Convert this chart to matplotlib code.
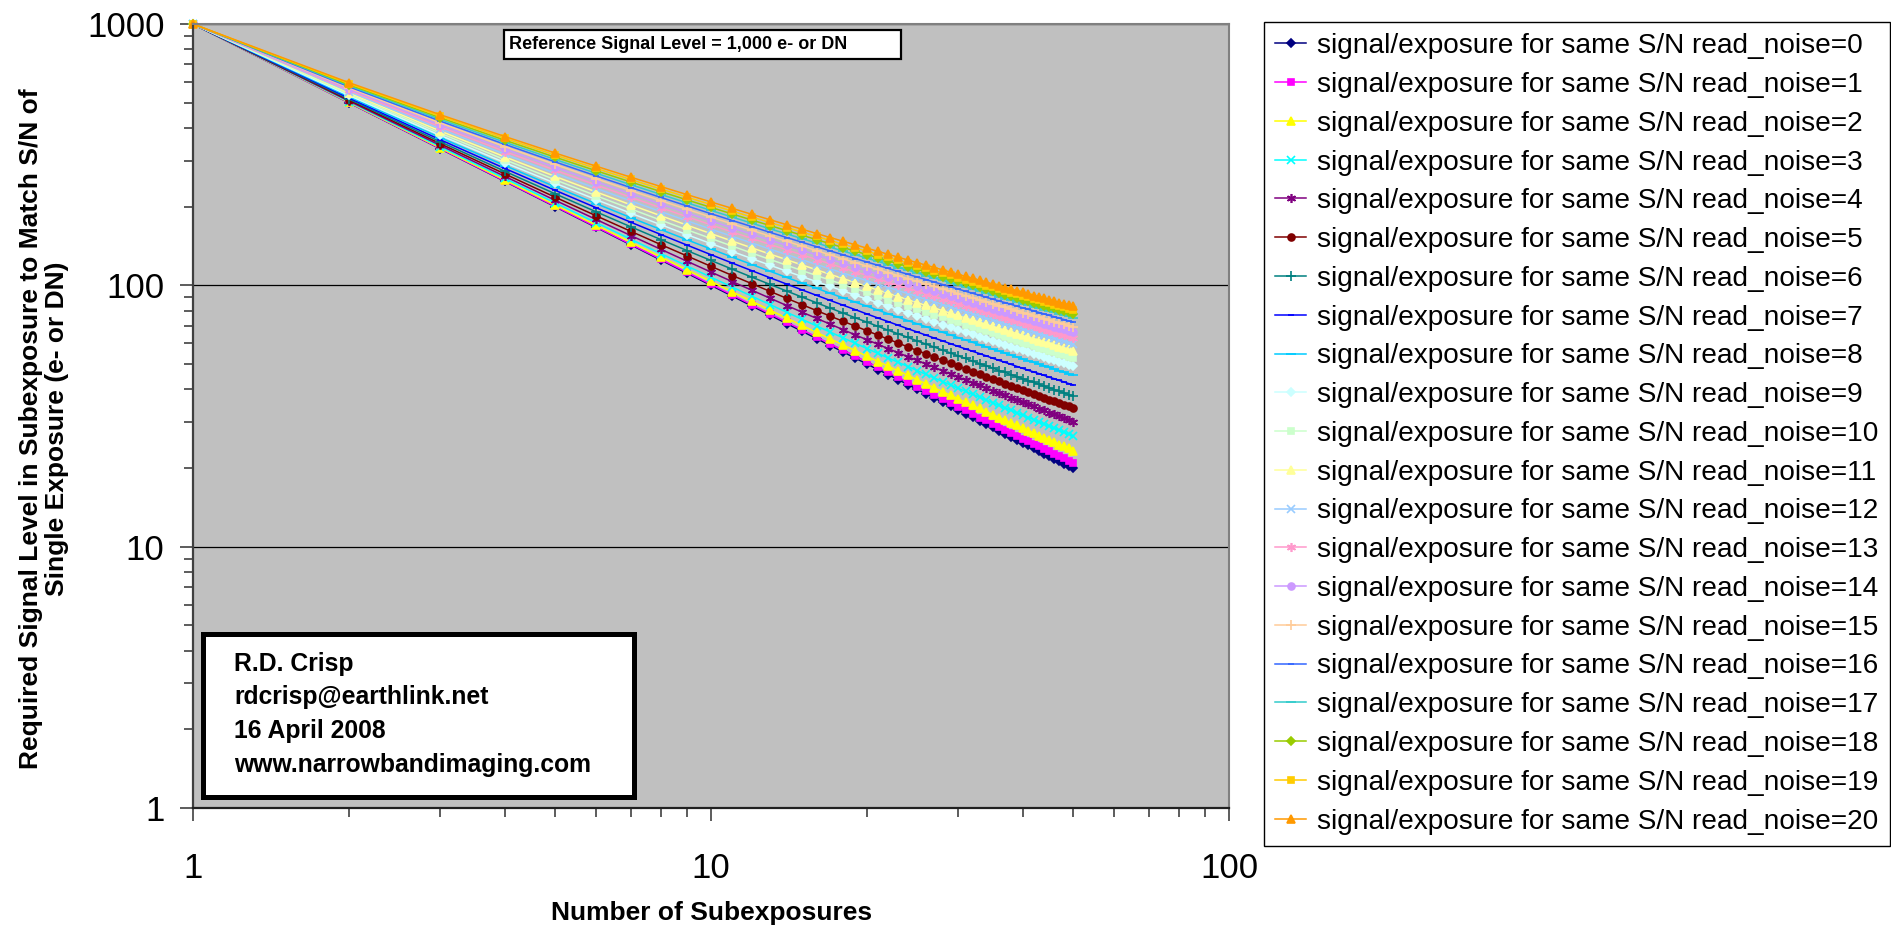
import matplotlib
matplotlib.use('Agg')
import matplotlib.pyplot as plt
from matplotlib.patches import Rectangle
from matplotlib.ticker import FixedLocator, LogLocator, NullFormatter

plt.rcParams['font.family'] = ['Liberation Sans', 'DejaVu Sans']

# number of subexposures (x)
subexposures = [1, 2, 3, 4, 5, 6, 7, 8, 9, 10, 11, 12, 13, 14, 15, 16, 17, 18, 19, 20,
                21, 22, 23, 24, 25, 26, 27, 28, 29, 30, 31, 32, 33, 34, 35, 36, 37, 38, 39, 40,
                41, 42, 43, 44, 45, 46, 47, 48, 49, 50]

noise_levels = [0, 1, 2, 3, 4, 5, 6, 7, 8, 9, 10, 11, 12, 13, 14, 15, 16, 17, 18, 19, 20]

# signal/exposure for same S/N, one list per read noise
noise_0 = [1000, 500, 333.3, 250, 200, 166.7, 142.9, 125, 111.1, 100, 90.9, 83.3, 76.9, 71.4, 66.7, 62.5, 58.8, 55.6, 52.6, 50,
           47.6, 45.5, 43.5, 41.7, 40, 38.5, 37.0, 35.7, 34.5, 33.3, 32.3, 31.3, 30.3, 29.4, 28.6, 27.8, 27.0, 26.3, 25.6, 25,
           24.4, 23.8, 23.3, 22.7, 22.2, 21.7, 21.3, 20.8, 20.4, 20.0]
noise_1 = [1000, 500.5, 334.0, 250.7, 200.8, 167.5, 143.7, 125.9, 112.0, 100.9, 91.8, 84.2, 77.8, 72.3, 67.6, 63.4, 59.7, 56.5, 53.6, 50.9,
           48.6, 46.4, 44.4, 42.6, 40.9, 39.4, 38.0, 36.6, 35.4, 34.3, 33.2, 32.2, 31.2, 30.4, 29.5, 28.7, 28.0, 27.2, 26.6, 25.9,
           25.3, 24.7, 24.2, 23.7, 23.2, 22.7, 22.2, 21.8, 21.3, 20.9]
noise_2 = [1000, 502.0, 336.0, 252.9, 203.1, 169.9, 146.2, 128.4, 114.5, 103.5, 94.4, 86.8, 80.4, 74.9, 70.2, 66.0, 62.4, 59.1, 56.2, 53.5,
           51.1, 49.0, 47.0, 45.2, 43.5, 42.0, 40.5, 39.2, 38.0, 36.8, 35.7, 34.7, 33.8, 32.9, 32.0, 31.2, 30.5, 29.7, 29.1, 28.4,
           27.8, 27.2, 26.6, 26.1, 25.6, 25.1, 24.6, 24.2, 23.8, 23.3]
noise_3 = [1000, 504.4, 339.1, 256.5, 206.8, 173.7, 150.1, 132.3, 118.5, 107.4, 98.4, 90.8, 84.4, 78.9, 74.1, 69.9, 66.2, 62.9, 60.0, 57.3,
           54.9, 52.7, 50.7, 48.9, 47.2, 45.6, 44.2, 42.8, 41.6, 40.4, 39.3, 38.3, 37.3, 36.4, 35.5, 34.7, 33.9, 33.2, 32.5, 31.8,
           31.2, 30.6, 30.0, 29.4, 28.9, 28.4, 27.9, 27.4, 27.0, 26.5]
noise_4 = [1000, 507.6, 343.4, 261.1, 211.7, 178.7, 155.1, 137.4, 123.5, 112.4, 103.3, 95.7, 89.3, 83.7, 78.9, 74.7, 71.0, 67.6, 64.6, 61.9,
           59.5, 57.2, 55.2, 53.3, 51.6, 50.0, 48.5, 47.1, 45.8, 44.6, 43.4, 42.4, 41.4, 40.4, 39.5, 38.7, 37.9, 37.1, 36.4, 35.7,
           35.0, 34.4, 33.7, 33.2, 32.6, 32.1, 31.6, 31.1, 30.6, 30.1]
noise_5 = [1000, 511.6, 348.5, 266.8, 217.5, 184.6, 161.0, 143.2, 129.4, 118.2, 109.0, 101.4, 94.8, 89.2, 84.3, 80.0, 76.2, 72.8, 69.8, 67.0,
           64.5, 62.2, 60.1, 58.1, 56.3, 54.7, 53.1, 51.7, 50.4, 49.1, 47.9, 46.8, 45.7, 44.7, 43.8, 42.9, 42.1, 41.2, 40.5, 39.7,
           39.0, 38.4, 37.7, 37.1, 36.5, 36.0, 35.4, 34.9, 34.4, 33.9]
noise_6 = [1000, 516.3, 354.4, 273.1, 224.1, 191.2, 167.5, 149.7, 135.7, 124.5, 115.2, 107.4, 100.8, 95.1, 90.1, 85.7, 81.8, 78.3, 75.1, 72.3,
           69.7, 67.3, 65.2, 63.2, 61.3, 59.6, 58.0, 56.5, 55.1, 53.7, 52.5, 51.3, 50.2, 49.2, 48.2, 47.2, 46.4, 45.5, 44.7, 43.9,
           43.2, 42.5, 41.8, 41.1, 40.5, 39.9, 39.3, 38.8, 38.2, 37.7]
noise_7 = [1000, 521.4, 360.9, 280.0, 231.1, 198.2, 174.4, 156.5, 142.4, 131.0, 121.6, 113.7, 106.9, 101.1, 96.0, 91.5, 87.5, 83.9, 80.7, 77.7,
           75.0, 72.6, 70.3, 68.2, 66.3, 64.5, 62.8, 61.3, 59.8, 58.4, 57.1, 55.9, 54.8, 53.7, 52.6, 51.6, 50.7, 49.8, 48.9, 48.1,
           47.3, 46.6, 45.9, 45.2, 44.5, 43.9, 43.3, 42.7, 42.1, 41.6]
noise_8 = [1000, 527.0, 367.8, 287.3, 238.4, 205.4, 181.6, 163.5, 149.2, 137.7, 128.1, 120.1, 113.2, 107.2, 102.0, 97.4, 93.2, 89.5, 86.2, 83.2,
           80.4, 77.8, 75.5, 73.3, 71.3, 69.5, 67.7, 66.1, 64.6, 63.1, 61.8, 60.5, 59.3, 58.1, 57.0, 56.0, 55.0, 54.0, 53.1, 52.3,
           51.4, 50.7, 49.9, 49.2, 48.5, 47.8, 47.2, 46.5, 45.9, 45.3]
noise_9 = [1000, 532.9, 375.0, 294.8, 245.9, 212.9, 188.8, 170.6, 156.1, 144.4, 134.7, 126.5, 119.4, 113.3, 108.0, 103.2, 99.0, 95.1, 91.7, 88.6,
           85.7, 83.1, 80.6, 78.4, 76.3, 74.3, 72.5, 70.8, 69.2, 67.7, 66.3, 65.0, 63.7, 62.5, 61.3, 60.3, 59.2, 58.2, 57.3, 56.4,
           55.5, 54.7, 53.9, 53.1, 52.4, 51.7, 51.0, 50.3, 49.7, 49.1]
noise_10 = [1000, 538.9, 382.3, 302.4, 253.5, 220.3, 196.1, 177.6, 163.0, 151.1, 141.2, 132.8, 125.6, 119.4, 113.8, 109.0, 104.6, 100.7, 97.1, 93.9,
            90.9, 88.2, 85.7, 83.3, 81.2, 79.2, 77.3, 75.5, 73.8, 72.2, 70.8, 69.4, 68.0, 66.8, 65.6, 64.4, 63.4, 62.3, 61.3, 60.4,
            59.5, 58.6, 57.8, 56.9, 56.2, 55.4, 54.7, 54.0, 53.3, 52.7]
noise_11 = [1000, 545.1, 389.7, 310.1, 261.1, 227.7, 203.3, 184.6, 169.8, 157.7, 147.6, 139.0, 131.7, 125.3, 119.6, 114.6, 110.1, 106.1, 102.4, 99.1,
            96.0, 93.2, 90.6, 88.2, 85.9, 83.8, 81.9, 80.0, 78.3, 76.7, 75.1, 73.7, 72.3, 71.0, 69.7, 68.5, 67.4, 66.3, 65.3, 64.3,
            63.3, 62.4, 61.5, 60.7, 59.9, 59.1, 58.3, 57.6, 56.9, 56.2]
noise_12 = [1000, 551.2, 397.1, 317.6, 268.6, 235.0, 210.4, 191.5, 176.4, 164.1, 153.9, 145.1, 137.6, 131.1, 125.3, 120.1, 115.5, 111.4, 107.6, 104.1,
            101.0, 98.1, 95.4, 92.9, 90.6, 88.4, 86.4, 84.5, 82.7, 81.0, 79.4, 77.9, 76.4, 75.0, 73.8, 72.5, 71.3, 70.2, 69.1, 68.1,
            67.1, 66.1, 65.2, 64.3, 63.5, 62.7, 61.9, 61.1, 60.4, 59.7]
noise_13 = [1000, 557.4, 404.3, 325.1, 275.9, 242.1, 217.3, 198.1, 182.9, 170.4, 159.9, 151.1, 143.4, 136.7, 130.8, 125.5, 120.8, 116.5, 112.6, 109.1,
            105.8, 102.8, 100.0, 97.5, 95.1, 92.8, 90.7, 88.7, 86.9, 85.1, 83.5, 81.9, 80.4, 79.0, 77.6, 76.4, 75.1, 74.0, 72.8, 71.8,
            70.7, 69.7, 68.8, 67.9, 67.0, 66.1, 65.3, 64.5, 63.8, 63.0]
noise_14 = [1000, 563.5, 411.5, 332.3, 283.0, 249.0, 224.0, 204.6, 189.2, 176.5, 165.8, 156.8, 149.0, 142.1, 136.1, 130.7, 125.8, 121.4, 117.5, 113.8,
            110.5, 107.4, 104.5, 101.9, 99.4, 97.1, 94.9, 92.9, 91.0, 89.2, 87.4, 85.8, 84.3, 82.8, 81.4, 80.1, 78.8, 77.6, 76.4, 75.3,
            74.2, 73.2, 72.2, 71.3, 70.4, 69.5, 68.6, 67.8, 67.0, 66.2]
noise_15 = [1000, 569.4, 418.4, 339.4, 290.0, 255.8, 230.5, 210.9, 195.2, 182.4, 171.6, 162.3, 154.3, 147.4, 141.2, 135.7, 130.7, 126.2, 122.1, 118.4,
            115.0, 111.8, 108.9, 106.1, 103.6, 101.2, 99.0, 96.9, 94.9, 93.0, 91.3, 89.6, 88.0, 86.5, 85.0, 83.7, 82.3, 81.1, 79.9, 78.7,
            77.6, 76.6, 75.5, 74.6, 73.6, 72.7, 71.8, 71.0, 70.1, 69.3]
noise_16 = [1000, 575.3, 425.2, 346.2, 296.7, 262.2, 236.7, 217.0, 201.1, 188.0, 177.0, 167.7, 159.5, 152.4, 146.1, 140.5, 135.4, 130.8, 126.6, 122.8,
            119.3, 116.0, 113.0, 110.2, 107.6, 105.2, 102.9, 100.7, 98.7, 96.8, 94.9, 93.2, 91.6, 90.0, 88.5, 87.1, 85.8, 84.5, 83.2, 82.0,
            80.9, 79.8, 78.7, 77.7, 76.7, 75.8, 74.9, 74.0, 73.1, 72.3]
noise_17 = [1000, 580.9, 431.7, 352.8, 303.1, 268.5, 242.8, 222.8, 206.7, 193.5, 182.3, 172.8, 164.5, 157.3, 150.8, 145.1, 139.9, 135.2, 131.0, 127.0,
            123.4, 120.1, 117.0, 114.2, 111.5, 109.0, 106.6, 104.4, 102.3, 100.3, 98.5, 96.7, 95.0, 93.4, 91.9, 90.4, 89.0, 87.7, 86.4, 85.2,
            84.0, 82.9, 81.8, 80.7, 79.7, 78.8, 77.8, 76.9, 76.0, 75.2]
noise_18 = [1000, 586.3, 438.0, 359.2, 309.3, 274.5, 248.6, 228.4, 212.1, 198.7, 187.4, 177.7, 169.3, 161.9, 155.4, 149.5, 144.2, 139.5, 135.1, 131.1,
            127.4, 124.0, 120.9, 117.9, 115.2, 112.6, 110.2, 107.9, 105.8, 103.8, 101.9, 100.0, 98.3, 96.7, 95.1, 93.6, 92.2, 90.8, 89.5, 88.2,
            87.0, 85.9, 84.7, 83.7, 82.6, 81.6, 80.6, 79.7, 78.8, 77.9]
noise_19 = [1000, 591.6, 444.0, 365.2, 315.2, 280.2, 254.1, 233.7, 217.3, 203.7, 192.2, 182.4, 173.9, 166.4, 159.7, 153.8, 148.4, 143.5, 139.1, 135.0,
            131.2, 127.8, 124.6, 121.5, 118.7, 116.1, 113.7, 111.3, 109.1, 107.1, 105.1, 103.2, 101.5, 99.8, 98.2, 96.6, 95.2, 93.8, 92.4, 91.1,
            89.9, 88.7, 87.6, 86.4, 85.4, 84.3, 83.3, 82.4, 81.5, 80.6]
noise_20 = [1000, 596.6, 449.8, 371.1, 320.9, 285.7, 259.4, 238.8, 222.2, 208.5, 196.9, 186.9, 178.3, 170.6, 163.9, 157.8, 152.3, 147.4, 142.9, 138.7,
            134.9, 131.4, 128.1, 125.0, 122.1, 119.5, 117.0, 114.6, 112.3, 110.2, 108.2, 106.3, 104.5, 102.8, 101.1, 99.6, 98.1, 96.6, 95.2, 93.9,
            92.6, 91.4, 90.2, 89.1, 88.0, 87.0, 85.9, 85.0, 84.0, 83.1]

series = [noise_0, noise_1, noise_2, noise_3, noise_4, noise_5, noise_6, noise_7, noise_8, noise_9, noise_10,
          noise_11, noise_12, noise_13, noise_14, noise_15, noise_16, noise_17, noise_18, noise_19, noise_20]

# excel style colours / markers
colors = ['#000080', '#FF00FF', '#FFFF00', '#00FFFF', '#800080', '#800000', '#008080', '#0000FF',
          '#00CCFF', '#CCFFFF', '#CCFFCC', '#FFFF99', '#99CCFF', '#FF99CC', '#CC99FF', '#FFCC99',
          '#3366FF', '#33CCCC', '#99CC00', '#FFCC00', '#FF9900']
star = (6, 2, 0)
markers = ['D', 's', '^', 'x', star, 'o', '+', '_', '_', 'D', 's', '^', 'x', star, 'o', '+', '_', '_', 'D', 's', '^']
msizes = [4.5, 5.0, 6.3, 6.0, 6.5, 5.0, 6.5, 4.0, 7.5, 4.5, 5.0, 6.3, 6.0, 6.5, 5.0, 6.5, 4.0, 7.5, 4.5, 5.0, 6.3]

W, H = 1891, 930


def main():
    fig = plt.figure(figsize=(W / 100, H / 100), dpi=100)
    ax = fig.add_axes([193 / W, 1 - 808 / H, (1229 - 193) / W, (808 - 24) / H])
    ax.set_facecolor('#C0C0C0')
    ax.set_xscale('log')
    ax.set_yscale('log')

    for i, vals in enumerate(series):
        ax.plot(subexposures, vals, color=colors[i], lw=1.1, marker=markers[i], ms=msizes[i],
                mfc=colors[i], mec=colors[i], mew=1.2, clip_on=False,
                label=f'signal/exposure for same S/N read_noise={noise_levels[i]}')

    ax.set_xlim(1, 100)
    ax.set_ylim(1, 1000)

    # ticks
    ax.xaxis.set_major_locator(FixedLocator([1, 10, 100]))
    ax.set_xticklabels(['1', '10', '100'])
    ax.yaxis.set_major_locator(FixedLocator([1, 10, 100, 1000]))
    ax.set_yticklabels(['1', '10', '100', '1000'])
    for axis in (ax.xaxis, ax.yaxis):
        axis.set_minor_locator(LogLocator(base=10, subs=[2, 3, 4, 5, 6, 7, 8, 9]))
        axis.set_minor_formatter(NullFormatter())
    ax.tick_params(which='major', direction='out', length=9.5, width=1.1, color='#303030', labelsize=25)
    ax.tick_params(which='minor', direction='out', length=6.5, width=1.1, color='#303030')
    ax.tick_params(axis='x', which='major', pad=22)
    ax.tick_params(axis='y', which='major', pad=11)

    ax.yaxis.grid(True, which='major', color='black', lw=0.9)
    ax.set_axisbelow(True)
    for side in ('top', 'right'):
        ax.spines[side].set_color('#808080')
        ax.spines[side].set_linewidth(1.5)
    ax.spines['left'].set_color('#404040')
    ax.spines['left'].set_linewidth(1.6)
    ax.spines['bottom'].set_color('#202020')
    ax.spines['bottom'].set_linewidth(1.6)

    # axis titles
    fig.text(712 / W, 1 - 913 / H, 'Number of Subexposures', ha='center', va='center',
             fontsize=19, fontweight='bold')
    fig.text(44 / W, 1 - 429 / H,
             'Required Signal Level in Subexposure to Match S/N of\nSingle Exposure (e- or DN)',
             rotation=90, ha='center', va='center', multialignment='center',
             fontsize=19, fontweight='bold', linespacing=1.1)

    # reference level box
    fig.add_artist(Rectangle((504 / W, 1 - 59 / H), (901 - 504) / W, (59 - 30) / H,
                             transform=fig.transFigure, facecolor='white', edgecolor='black', lw=1.6))
    fig.text(509 / W, 1 - 44.5 / H, 'Reference Signal Level = 1,000 e- or DN', ha='left', va='center',
             fontsize=13, fontweight='bold')

    # author box
    fig.add_artist(Rectangle((202.5 / W, 1 - 796.5 / H), (633.5 - 202.5) / W, (796.5 - 633.5) / H,
                             transform=fig.transFigure, facecolor='white', edgecolor='black', lw=3.6))
    author_lines = ['R.D. Crisp', 'rdcrisp@earthlink.net', '16 April 2008', 'www.narrowbandimaging.com']
    for k, line in enumerate(author_lines):
        fig.text(234 / W, 1 - (663.5 + 33.7 * k) / H, line, ha='left', va='center',
                 fontsize=17.8, fontweight='bold')

    # legend
    leg = ax.legend(loc='upper left', bbox_to_anchor=(1264 / W, 1 - 22 / H), bbox_transform=fig.transFigure,
                    borderaxespad=0, fancybox=False, framealpha=1, fontsize=20.2, handlelength=1.1,
                    handletextpad=0.4, labelspacing=0.455, borderpad=0.4, numpoints=1)
    leg.get_frame().set_edgecolor('black')
    leg.get_frame().set_linewidth(1.0)

    fig.savefig('out.png', dpi=100)


if __name__ == '__main__':
    main()
